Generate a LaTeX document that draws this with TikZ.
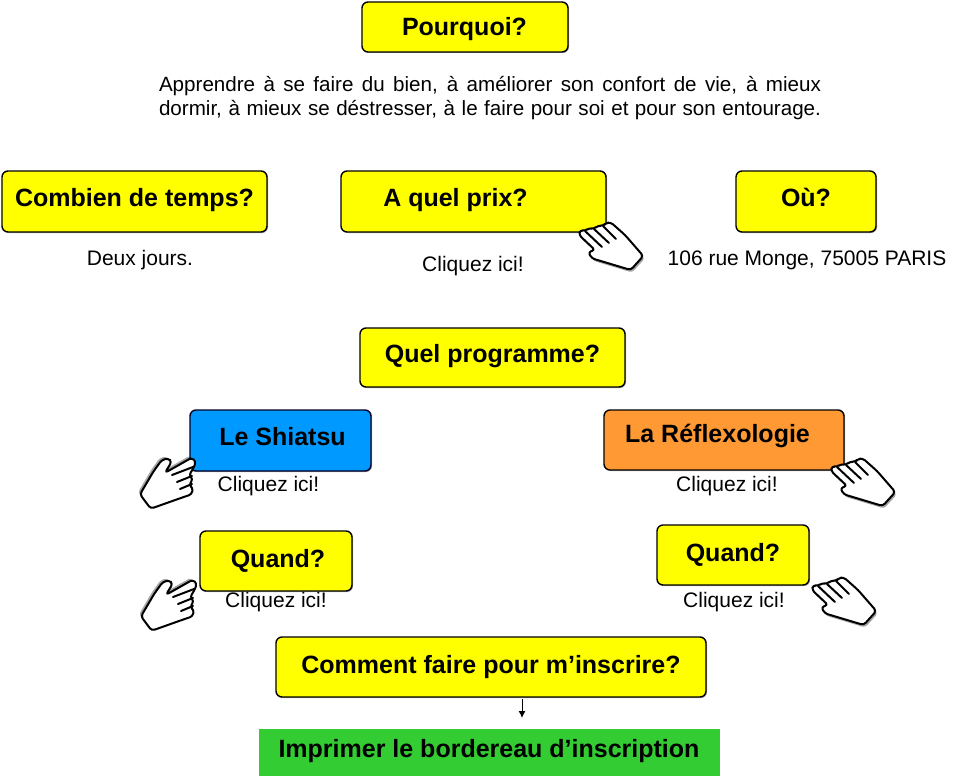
\documentclass[tikz,border=0pt]{standalone}
\usepackage{fontspec}
\setmainfont{Liberation Sans}
\usetikzlibrary{arrows.meta,shadows}
\definecolor{jaune}{RGB}{255,255,0}
\definecolor{bleu}{RGB}{0,153,255}
\definecolor{orangeb}{RGB}{255,153,51}
\definecolor{vert}{RGB}{51,204,51}
\tikzset{
  x=1pt,y=-1pt,
  boxbase/.style={draw=black,line width=1.4pt,rounded corners=6pt,inner sep=0pt,outer sep=0pt,
    drop shadow={shadow xshift=1pt,shadow yshift=-1pt,fill=black,opacity=.35}},
  ybox/.style={boxbase,fill=jaune},
  bbox/.style={boxbase,fill=bleu,draw=black!85!blue},
  obox/.style={boxbase,fill=orangeb},
  gbox/.style={fill=vert,inner sep=0pt,outer sep=0pt},
  titre/.style={anchor=base,inner sep=0pt,font=\fontsize{25}{29}\selectfont\bfseries},
  texte/.style={anchor=base,inner sep=0pt,font=\fontsize{21}{25}\selectfont},
  para/.style={anchor=base,inner sep=0pt,font=\fontsize{20.6}{24}\selectfont},
  handfill/.style={fill=white,draw=black,line width=2pt,line join=round,rounded corners=3pt},
  handline/.style={draw=black,line width=2pt,line cap=round},
  pics/handr/.style={code={
    \path[fill=black,opacity=.35,rounded corners=3pt,shift={(1.5,2.5)}]
      (90.7,110)--(103.3,96)--(85,75)--(70.7,62.3)--(66,63)--(63,66)--(58,65.5)--(54,69)--(49,68)--(45,71)--(40,70)--(39,75)--(55,90)--(48.3,92)--(51.7,98.3)--(71.7,104.3)--cycle;
    \path[handfill]
      (90.7,110)--(103.3,96)--(85,75)--(70.7,62.3)--(66,63)--(63,66)--(58,65.5)--(54,69)--(49,68)--(45,71)--(40,70)--(39,75)--(55,90)--(48.3,92)--(51.7,98.3)--(71.7,104.3)--cycle;
    \path[handline] (63,66)--(76,79) (54,69)--(69,83) (45,71)--(62,87);
  }},
  pics/handl/.style={code={
    \path[fill=black,opacity=.35,rounded corners=3pt,shift={(-2,-2)}]
      (30.7,108.7)--(60,98.3)--(71.7,94.3)--(73,88)--(69,85)--(73,79)--(69,75)--(73,69)--(76,61.7)--(71.7,57.7)--(50,70)--(45,72.7)--(51.7,61.7)--(48.3,58.3)--(41.7,60)--(33.3,71.7)--(20,94.3)--cycle;
    \path[handfill]
      (30.7,108.7)--(60,98.3)--(71.7,94.3)--(73,88)--(69,85)--(73,79)--(69,75)--(73,69)--(76,61.7)--(71.7,57.7)--(50,70)--(45,72.7)--(51.7,61.7)--(48.3,58.3)--(41.7,60)--(33.3,71.7)--(20,94.3)--cycle;
    \path[handline] (52,75)--(73,67) (57,82)--(72,76) (60,89)--(72,84);
  }},
}
\begin{document}
\begin{tikzpicture}
\useasboundingbox (0,0) rectangle (957,776);
% boxes
\node[ybox,minimum width=206pt,minimum height=50pt] (bpourquoi) at (465,27) {};
\node[ybox,minimum width=265pt,minimum height=61pt] (bcombien) at (134.5,201.5) {};
\node[ybox,minimum width=265pt,minimum height=61pt] (bprix) at (473.5,201.5) {};
\node[ybox,minimum width=140pt,minimum height=61pt] (bou) at (806,201.5) {};
\node[ybox,minimum width=265pt,minimum height=59pt] (bprog) at (492.5,357.5) {};
\node[bbox,minimum width=181pt,minimum height=61pt] (bshiatsu) at (280.5,440.5) {};
\node[obox,minimum width=240pt,minimum height=60pt] (breflex) at (724,440) {};
\node[ybox,minimum width=152pt,minimum height=60pt] (bquandl) at (276,561) {};
\node[ybox,minimum width=152pt,minimum height=60pt] (bquandr) at (733,555) {};
\node[ybox,minimum width=430pt,minimum height=60pt] (bcomment) at (491,667) {};
\node[gbox,minimum width=461pt,minimum height=47pt] (bimprimer) at (489.5,752.5) {};
% titles
\node[titre] (tpourquoi) at (464.5,35.5) {Pourquoi?};
\node[titre] (tcombien) at (134.5,206.5) {Combien de temps?};
\node[titre] (tprix) at (455.5,206.5) {A quel prix?};
\node[titre] (tou) at (806,206.5) {Où?};
\node[titre] (tprog) at (492.5,362.5) {Quel programme?};
\node[titre] (tshiatsu) at (282.5,445) {Le Shiatsu};
\node[titre] (treflex) at (717.5,442) {La Réflexologie};
\node[titre] (tquandl) at (278,567) {Quand?};
\node[titre] (tquandr) at (733,561) {Quand?};
\node[titre] (tcomment) at (491,673) {Comment faire pour m’inscrire?};
\node[titre] (timprimer) at (489,757) {Imprimer le bordereau d’inscription};
% plain text
\node[para] (para1) at (490,91) {\makebox[662pt][s]{Apprendre à se faire du bien, à améliorer son confort de vie, à mieux}};
\node[para] (para2) at (490,115.5) {\makebox[662pt][s]{dormir, à mieux se déstresser, à le faire pour soi et pour son entourage.}};
\node[texte] (tdeux) at (140,265.5) {Deux jours.};
\node[texte] (cprix) at (473,271.5) {Cliquez ici!};
\node[texte] (tadresse) at (807,265.5) {106 rue Monge, 75005 PARIS};
\node[texte] (cshiatsu) at (268.5,491.5) {Cliquez ici!};
\node[texte] (creflex) at (727,491.5) {Cliquez ici!};
\node[texte] (cquandl) at (276,607.5) {Cliquez ici!};
\node[texte] (cquandr) at (734,607.5) {Cliquez ici!};
% arrow
\coordinate (aA) at (522,699);
\coordinate (aB) at (522,718);
\draw[line width=1pt,-{Latex[length=7pt,width=7pt]}] (aA) -- (aB);
% hands
\pic at (540,160) {handr};
\pic at (792,396) {handr};
\pic at (773,515) {handr};
\pic at (120,400) {handl};
\pic at (121,522) {handl};
\end{tikzpicture}
\end{document}
